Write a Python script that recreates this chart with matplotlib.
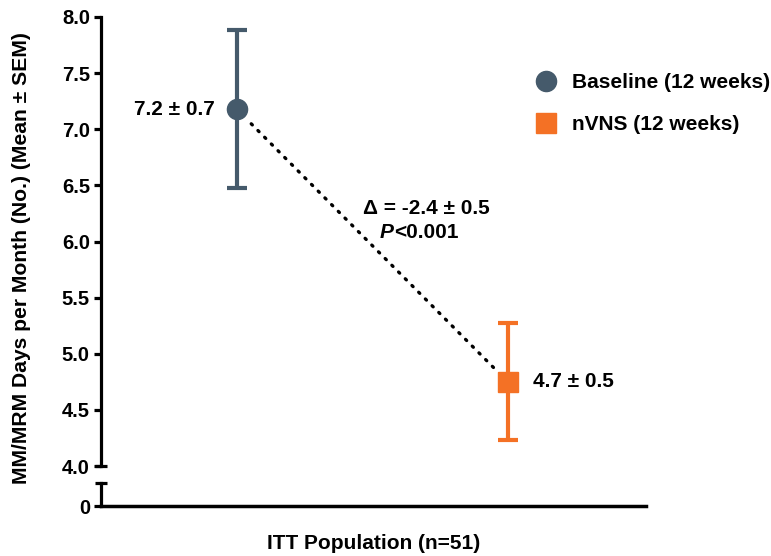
import matplotlib
matplotlib.use("Agg")
import matplotlib.pyplot as plt
from matplotlib.lines import Line2D

plt.rcParams['font.family'] = ['Liberation Sans', 'DejaVu Sans']
plt.rcParams['font.weight'] = 'bold'
plt.rcParams['axes.labelweight'] = 'bold'

# ---- data ----
categories = ['Baseline (12 weeks)', 'nVNS (12 weeks)']
x_pos = [1, 3]
means = [7.18, 4.75]
sems = [0.70, 0.52]
value_labels = ['7.2 \u00b1 0.7', '4.7 \u00b1 0.5']
yticks_top = [4.0, 4.5, 5.0, 5.5, 6.0, 6.5, 7.0, 7.5, 8.0]
delta_text = '\u0394 = -2.4 \u00b1 0.5'
p_text = '<0.001'
xlabel = 'ITT Population (n=51)'
ylabel = 'MM/MRM Days per Month (No.) (Mean \u00b1 SEM)'

colors = ['#455A6B', '#F47125']
markers = ['o', 's']

W, H = 771, 556
fig = plt.figure(figsize=(W / 100, H / 100), dpi=100)

ax = fig.add_axes([101 / W, 90 / H, 545 / W, 449 / H])
ax2 = fig.add_axes([101 / W, 50 / H, 545 / W, 23 / H])

xlim = (0, 4.02)
spine_lw = 2.3

# top axis
ax.set_xlim(*xlim)
ax.set_ylim(4.0, 8.0)
for s in ['top', 'right', 'bottom']:
    ax.spines[s].set_visible(False)
ax.spines['left'].set_linewidth(spine_lw)
ax.set_xticks([])
ax.set_yticks(yticks_top)
ax.set_yticklabels([f'{v:.1f}' for v in yticks_top], fontsize=14.5, fontweight='bold')
ax.tick_params(axis='y', direction='out', length=5, width=spine_lw, pad=3)
ax.patch.set_visible(False)

# bottom axis
ax2.set_xlim(*xlim)
ax2.set_ylim(0, 1)
for s in ['top', 'right']:
    ax2.spines[s].set_visible(False)
ax2.spines['left'].set_linewidth(spine_lw)
ax2.spines['bottom'].set_linewidth(2.5)
ax2.set_xticks([])
ax2.set_yticks([0])
ax2.set_yticklabels(['0'], fontsize=14.5, fontweight='bold')
ax2.tick_params(axis='y', direction='out', length=5, width=spine_lw, pad=3)
ax2.set_xlabel(xlabel, fontsize=15, fontweight='bold', labelpad=20)
ax2.patch.set_visible(False)

# break caps
ax.plot([0], [4.0], marker='_', markersize=8, mew=spine_lw, color='black',
        transform=ax.get_yaxis_transform(), clip_on=False)
ax2.plot([0], [1.0], marker='_', markersize=8, mew=spine_lw, color='black',
         transform=ax2.get_yaxis_transform(), clip_on=False)

# dotted connector
ax.annotate('', xy=(x_pos[1], means[1]), xytext=(x_pos[0], means[0]),
            arrowprops=dict(arrowstyle='-', linestyle=(0, (0.45, 2.4)), lw=2.4,
                            color='black', capstyle='round',
                            shrinkA=15, shrinkB=14))

# error bars and points
for xi, m, e, c, mk in zip(x_pos, means, sems, colors, markers):
    ax.errorbar([xi], [m], yerr=[e], fmt=mk, color=c, ms=14.5, mec=c,
                elinewidth=3, capsize=7.2, capthick=3, zorder=3)

# value labels
ax.annotate(value_labels[0], xy=(x_pos[0], means[0]), xytext=(-16, 0),
            textcoords='offset points', ha='right', va='center', fontsize=15, fontweight='bold')
ax.annotate(value_labels[1], xy=(x_pos[1], means[1]), xytext=(18, 0),
            textcoords='offset points', ha='left', va='center', fontsize=15, fontweight='bold')

# delta text
ax.text((426 - 101) / 545, (466 - 208) / 449, delta_text, transform=ax.transAxes,
        ha='center', va='center', fontsize=15, fontweight='bold')
ax.text((394 - 101) / 545, (466 - 232) / 449, 'P', transform=ax.transAxes,
        ha='right', va='center', fontsize=15, fontweight='bold', fontstyle='italic')
ax.text((394 - 101) / 545, (466 - 232) / 449, p_text, transform=ax.transAxes,
        ha='left', va='center', fontsize=15, fontweight='bold')

# y label
fig.text(22 / W, 1 - 258 / H, ylabel, rotation=90, ha='center', va='center',
         fontsize=15.2, fontweight='bold')

# legend
handles = [Line2D([], [], marker=mk, ls='none', ms=14.5, color=c, mec=c)
           for mk, c in zip(markers, colors)]
fig.legend(handles, categories, loc='upper left',
           bbox_to_anchor=(535.6 / W, 1 - 73 / H), frameon=False, fontsize=15,
           handlelength=1.0, handletextpad=0.75, labelspacing=1.1,
           borderpad=0, borderaxespad=0, prop={'weight': 'bold', 'size': 15})

fig.savefig('out.png', dpi=100)
